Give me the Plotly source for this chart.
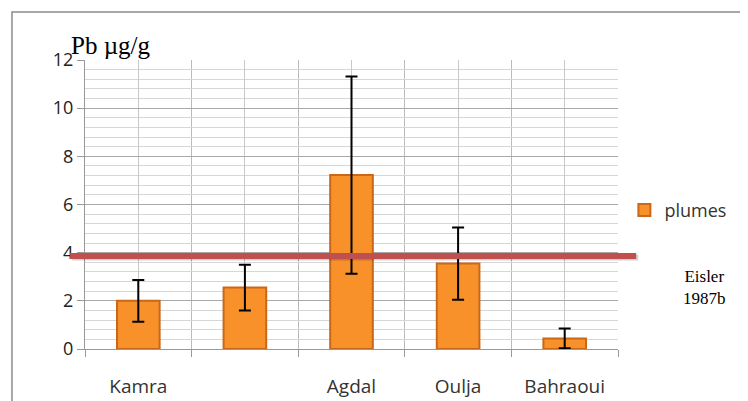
import plotly.graph_objects as go

categories = ["Kamra", "", "Agdal", "Oulja", "Bahraoui"]
plumes = [2.0, 2.55, 7.22, 3.55, 0.44]
plumes_err = [0.87, 0.95, 4.1, 1.5, 0.41]
reference_value = 3.86
reference_label = "Eisler<br>1987b"
y_title = "Pb µg/g"
series_name = "plumes"

xpos = list(range(len(categories)))

fig = go.Figure()
fig.add_trace(go.Bar(
    x=xpos, y=plumes, name=series_name, width=0.4,
    marker=dict(color="#F8912A", line=dict(color="#C9681A", width=2)),
    error_y=dict(type="data", array=plumes_err, visible=True,
                 color="black", thickness=2, width=6),
))

# outer chart border
fig.add_shape(type="rect", xref="paper", yref="paper",
              x0=-0.137, x1=1.5, y0=-0.5, y1=1.166,
              line=dict(color="#8c8c8c", width=1.5), layer="below")
# reference line shadow + line
fig.add_shape(type="line", xref="paper", yref="y",
              x0=-0.024, x1=1.038, y0=reference_value - 0.06, y1=reference_value - 0.06,
              line=dict(color="rgba(0,0,0,0.18)", width=6))
fig.add_shape(type="line", xref="paper", yref="y",
              x0=-0.028, x1=1.034, y0=reference_value, y1=reference_value,
              line=dict(color="#C0504D", width=6))

fig.add_annotation(text=y_title, xref="paper", yref="paper",
                   x=-0.03, y=0.998, xanchor="left", yanchor="bottom",
                   showarrow=False,
                   font=dict(family="Liberation Serif", size=25, color="black"))
fig.add_annotation(text=reference_label, xref="paper", yref="paper",
                   x=1.163, y=0.214, xanchor="center", yanchor="middle",
                   showarrow=False, align="center",
                   font=dict(family="Liberation Serif", size=17, color="black"))

fig.update_layout(
    width=748, height=401,
    margin=dict(l=77, r=138, t=52, b=60),
    paper_bgcolor="white", plot_bgcolor="white",
    showlegend=True,
    legend=dict(x=1.012, y=0.48, xanchor="left", yanchor="middle",
                font=dict(family="Open Sans", size=18, color="#333"),
                bgcolor="rgba(0,0,0,0)", itemwidth=30),
    font=dict(family="Open Sans", color="#333"),
)
fig.update_xaxes(
    automargin=False,
    range=[-0.5, len(categories) - 0.5],
    tickvals=xpos, ticktext=categories, ticks="",
    ticklabelstandoff=20,
    tickfont=dict(family="Open Sans", size=19, color="#333"),
    showgrid=True, gridcolor="#c8c8c8", gridwidth=1,
    showline=True, linecolor="#999", linewidth=1, zeroline=False,
    minor=dict(tickvals=[i - 0.5 for i in range(len(categories) + 1)],
               ticks="outside", ticklen=7, tickcolor="#999",
               showgrid=True, gridcolor="#bbbbbb", gridwidth=1),
)
fig.update_yaxes(
    automargin=False,
    range=[0, 12], dtick=2, tick0=0,
    ticks="outside", ticklen=7, tickcolor="#999",
    tickfont=dict(family="Open Sans", size=18, color="#222"),
    showgrid=True, gridcolor="#a8a8a8", gridwidth=1,
    showline=True, linecolor="#999", linewidth=1, zeroline=False,
    minor=dict(dtick=0.4, showgrid=True, gridcolor="#d6d6d6", gridwidth=1),
)

fig.write_html("out.html")
